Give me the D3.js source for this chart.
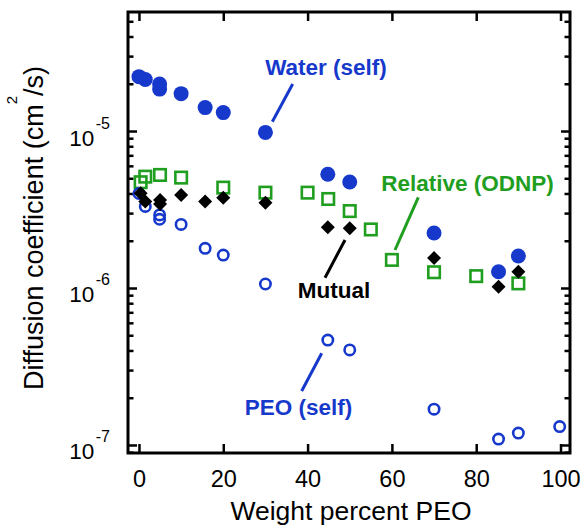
<!DOCTYPE html>
<html>
<head>
<meta charset="utf-8">
<script src="https://cdn.jsdelivr.net/npm/d3@7"></script>
<style>
  html, body { margin: 0; padding: 0; background: #fff; }
  svg { display: block; font-family: "Liberation Sans", Arial, Helvetica, sans-serif; }
</style>
</head>
<body>
<svg id="chart" width="586" height="527"></svg>
<script>
// Weight percent PEO of each sample
const waterX    = [0, 1.5, 4.9, 4.9, 10, 15.7, 20, 30, 44.8, 50, 70, 85.3, 90];
// Water self-diffusion (cm^2/s)
const waterY    = [2.22e-5, 2.13e-5, 1.99e-5, 1.85e-5, 1.73e-5, 1.41e-5, 1.31e-5, 9.8e-6, 5.3e-6, 4.73e-6, 2.24e-6, 1.27e-6, 1.6e-6];

const relX      = [0.4, 1.5, 5, 10, 20, 30, 40, 44.9, 50, 55, 60, 70, 80, 90];
// Relative diffusion from ODNP (cm^2/s)
const relY      = [4.72e-6, 5.12e-6, 5.25e-6, 5.05e-6, 4.36e-6, 4.05e-6, 4.05e-6, 3.69e-6, 3.09e-6, 2.36e-6, 1.51e-6, 1.26e-6, 1.19e-6, 1.07e-6];

const mutualX   = [0.4, 1.5, 5, 5, 10, 15.7, 20, 30, 44.8, 50, 70, 85.3, 90];
// Mutual diffusion (cm^2/s)
const mutualY   = [4.01e-6, 3.55e-6, 3.64e-6, 3.43e-6, 3.91e-6, 3.55e-6, 3.76e-6, 3.49e-6, 2.44e-6, 2.40e-6, 1.55e-6, 1.02e-6, 1.27e-6];

const peoX      = [0, 1.5, 4.9, 4.9, 10, 15.7, 20, 30, 44.8, 50, 70, 85.3, 90, 99.8];
// PEO self-diffusion (cm^2/s)
const peoY      = [4.0e-6, 3.31e-6, 2.92e-6, 2.74e-6, 2.54e-6, 1.79e-6, 1.62e-6, 1.06e-6, 4.66e-7, 4.03e-7, 1.69e-7, 1.09e-7, 1.19e-7, 1.31e-7];

const xTicks    = [0, 20, 40, 60, 80, 100];
const yMajor    = [1e-7, 1e-6, 1e-5];
const yMajorExp = ["-7", "-6", "-5"];

const BLUE  = "#1639cc";
const GREEN = "#1f9e1f";

const margin = { left: 128, top: 12 };
const W = 442, H = 441;

const svg = d3.select("#chart");
const g = svg.append("g").attr("transform", `translate(${margin.left},${margin.top})`);

const x = d3.scaleLinear().domain([-2.6, 102.25]).range([0, W]);
const y = d3.scaleLog().domain([8.89e-8, 5.73e-5]).range([H, 0]);

// minor log ticks: 2..9 times each decade inside the domain
const yMinor = [];
for (let e = -8; e <= -4; e++) {
  for (let m = 2; m <= 9; m++) {
    const v = m * Math.pow(10, e);
    if (v > y.domain()[0] && v < y.domain()[1]) yMinor.push(v);
  }
}

function styleAxis(sel) {
  sel.select(".domain").remove();
  sel.selectAll("line").attr("stroke", "#000").attr("stroke-width", 2.5);
}

// bottom axis with labels
g.append("g").attr("transform", `translate(0,${H})`)
  .call(d3.axisBottom(x).tickValues(xTicks).tickSize(-9).tickPadding(17).tickFormat(d3.format("d")))
  .call(styleAxis)
  .selectAll("text").attr("font-size", 23.5).attr("fill", "#000")
  .attr("font-family", "Liberation Sans, Arial, sans-serif");

// top axis, ticks only
g.append("g")
  .call(d3.axisTop(x).tickValues(xTicks).tickSize(-9).tickFormat(""))
  .call(styleAxis);

// left axis major ticks with power-of-ten labels
const yl = g.append("g")
  .call(d3.axisLeft(y).tickValues(yMajor).tickSize(-9).tickPadding(18).tickFormat(""))
  .call(styleAxis);
yl.selectAll(".tick text").each(function(d, i) {
  const t = d3.select(this)
    .attr("dy", null).attr("y", 14)
    .attr("font-size", 22.5).attr("fill", "#000")
    .attr("font-family", "Liberation Sans, Arial, sans-serif")
    .attr("text-anchor", "end");
  t.append("tspan").text("10");
  t.append("tspan").attr("font-size", 16).attr("dx", 1.5).attr("dy", -17).text(yMajorExp[i]);
});

// left axis minor ticks
g.append("g")
  .call(d3.axisLeft(y).tickValues(yMinor).tickSize(-5.5).tickFormat(""))
  .call(styleAxis);

// right axis major and minor ticks
g.append("g").attr("transform", `translate(${W},0)`)
  .call(d3.axisRight(y).tickValues(yMajor).tickSize(-9).tickFormat(""))
  .call(styleAxis);
g.append("g").attr("transform", `translate(${W},0)`)
  .call(d3.axisRight(y).tickValues(yMinor).tickSize(-5.5).tickFormat(""))
  .call(styleAxis);

// plot frame
g.append("rect").attr("x", 0).attr("y", 0).attr("width", W).attr("height", H)
  .attr("fill", "none").attr("stroke", "#000").attr("stroke-width", 3);

// axis titles
svg.append("text")
  .attr("x", 351).attr("y", 520)
  .attr("text-anchor", "middle").attr("font-size", 26.5).attr("fill", "#000")
  .text("Weight percent PEO");

const yt = svg.append("text")
  .attr("transform", "translate(43,228) rotate(-90)")
  .attr("text-anchor", "middle").attr("font-size", 27).attr("fill", "#000");
yt.append("tspan").text("Diffusion coefficient (cm");
yt.append("tspan").attr("font-size", 15).attr("dy", -26).text("2");
yt.append("tspan").attr("dy", 26).text("/s)");

// data marks
const zip = (xs, ys) => xs.map((v, i) => ({ x: v, y: ys[i] }));

// water self-diffusion: filled circles
g.append("g").selectAll("circle").data(zip(waterX, waterY)).join("circle")
  .attr("cx", d => x(d.x)).attr("cy", d => y(d.y)).attr("r", 7.5)
  .attr("fill", BLUE);

// relative (ODNP): open squares
const sq = 11.5;
g.append("g").selectAll("rect").data(zip(relX, relY)).join("rect")
  .attr("x", d => x(d.x) - sq / 2).attr("y", d => y(d.y) - sq / 2)
  .attr("width", sq).attr("height", sq)
  .attr("fill", "none").attr("stroke", GREEN).attr("stroke-width", 2.6);

// PEO self-diffusion: open circles
g.append("g").selectAll("circle").data(zip(peoX, peoY)).join("circle")
  .attr("cx", d => x(d.x)).attr("cy", d => y(d.y)).attr("r", 5.2)
  .attr("fill", "none").attr("stroke", BLUE).attr("stroke-width", 2.6);

// mutual diffusion: filled diamonds
const dh = 7;
g.append("g").selectAll("path").data(zip(mutualX, mutualY)).join("path")
  .attr("d", d => {
    const cx = x(d.x), cy = y(d.y);
    return `M${cx},${cy - dh}L${cx + dh},${cy}L${cx},${cy + dh}L${cx - dh},${cy}Z`;
  })
  .attr("fill", "#000");

// series labels with leader lines
const labels = [
  { text: "Water (self)",    color: BLUE,   tx: 326,   ty: 75,  line: [[292.7, 84], [272.3, 121.7]] },
  { text: "Relative (ODNP)", color: GREEN,  tx: 467.5, ty: 191, line: [[418.3, 197.3], [395, 250]] },
  { text: "Mutual",          color: "#000", tx: 334,   ty: 298, line: [[345, 240], [325, 277.7]] },
  { text: "PEO (self)",      color: BLUE,   tx: 298.5, ty: 415, line: [[321.7, 353.3], [301.7, 391]] }
];
labels.forEach(l => {
  svg.append("line")
    .attr("x1", l.line[0][0]).attr("y1", l.line[0][1])
    .attr("x2", l.line[1][0]).attr("y2", l.line[1][1])
    .attr("stroke", l.color).attr("stroke-width", 3);
  svg.append("text")
    .attr("x", l.tx).attr("y", l.ty)
    .attr("text-anchor", "middle").attr("font-size", 22.5).attr("font-weight", "bold")
    .attr("fill", l.color).text(l.text);
});
</script>
</body>
</html>
